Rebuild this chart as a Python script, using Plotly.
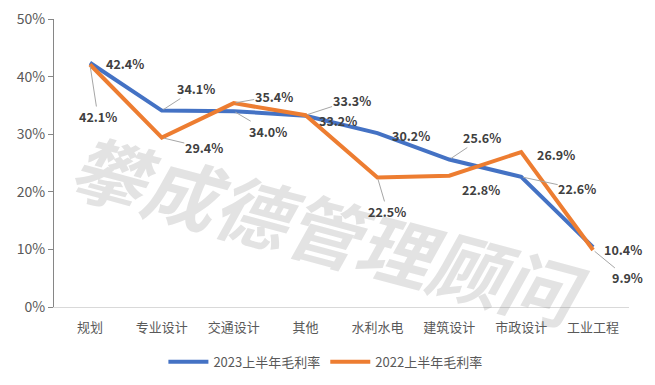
import plotly.graph_objects as go

categories = ["规划", "专业设计", "交通设计", "其他", "水利水电", "建筑设计", "市政设计", "工业工程"]
rate_2023 = [42.4, 34.1, 34.0, 33.2, 30.2, 25.6, 22.6, 10.4]
rate_2022 = [42.1, 29.4, 35.4, 33.3, 22.5, 22.8, 26.9, 9.9]
y_ticks = [0, 10, 20, 30, 40, 50]
y_tick_labels = ["0%", "10%", "20%", "30%", "40%", "50%"]

# label offsets in pixels (dx, dy down-positive, leader line?)
off_2023 = [(35, 1, False), (34, -22, True), (34, 20, True), (32, 5, False),
            (34, 2, False), (33, -22, True), (56, 12, True), (30, 2, False)]
off_2022 = [(8, 52, True), (42, 10, True), (40, -7, True), (46, -15, True),
            (10, 34, True), (32, 14, False), (35, 2, False), (34, 28, True)]

BLUE = "#4472C4"
ORANGE = "#ED7D31"
FONT = "Noto Sans CJK SC"

fig = go.Figure()
fig.add_trace(go.Scatter(x=categories, y=rate_2023, mode="lines", name="2023上半年毛利率",
                         line=dict(color=BLUE, width=4)))
fig.add_trace(go.Scatter(x=categories, y=rate_2022, mode="lines", name="2022上半年毛利率",
                         line=dict(color=ORANGE, width=4)))

annotations = [dict(text="<i><b>攀成德管理顾问</b></i>", x=0.478, y=0.271, xref="paper", yref="paper",
                    xanchor="center", yanchor="middle",
                    showarrow=False, textangle=15,
                    font=dict(family=FONT, size=74, color="rgba(128,128,128,0.22)"))]

for vals, offs in ((rate_2023, off_2023), (rate_2022, off_2022)):
    for c, v, (dx, dy, lead) in zip(categories, vals, offs):
        annotations.append(dict(
            x=c, y=v, xref="x", yref="y", text=f"<b>{v:.1f}%</b>",
            showarrow=True, arrowhead=0, arrowwidth=1,
            arrowcolor="#A6A6A6" if lead else "rgba(0,0,0,0)",
            ax=dx, ay=dy, standoff=2, borderpad=0,
            font=dict(family=FONT, size=12.5, color="#404040")))

fig.update_layout(
    width=647, height=377,
    margin=dict(l=46, r=26, t=11, b=78, autoexpand=False),
    plot_bgcolor="white", paper_bgcolor="white",
    font=dict(family=FONT, size=13, color="#595959"),
    showlegend=True,
    legend=dict(orientation="h", x=0.472, y=-0.19, xanchor="center", yanchor="middle",
                font=dict(family=FONT, size=13, color="#595959"), itemwidth=40),
    annotations=annotations,
)
fig.update_xaxes(range=[-0.5, 7.5], automargin=False,
                 showline=True, linecolor="#D9D9D9", linewidth=1, showgrid=False,
                 ticks="", ticklabelstandoff=8, tickfont=dict(size=13, color="#595959"))
fig.update_yaxes(range=[0, 50], automargin=False, tickvals=y_ticks, ticktext=y_tick_labels,
                 showgrid=False, showline=True, linecolor="#868686", linewidth=1,
                 ticks="outside", ticklen=5, tickcolor="#868686", zeroline=False,
                 ticklabeloverflow="allow",
                 tickfont=dict(size=14, color="#595959"))

fig.write_html("out.html")
